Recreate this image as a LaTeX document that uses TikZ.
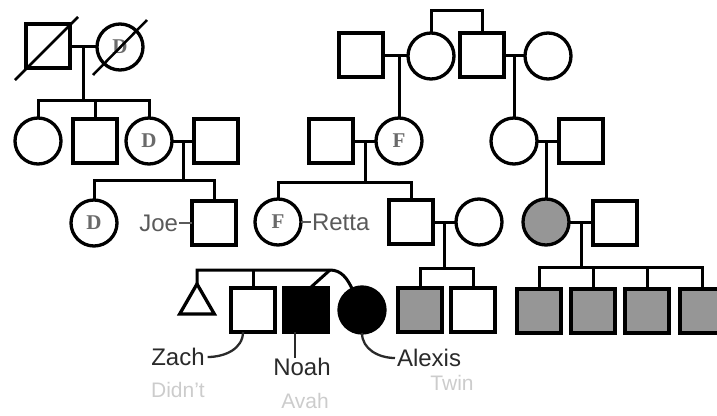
\documentclass[tikz,border=0pt]{standalone}
\usepackage{fontspec}
\setmainfont{Liberation Sans}
\newfontfamily\letterfont{Liberation Serif}
\usetikzlibrary{shapes.geometric,calc}
\definecolor{affgray}{HTML}{969696}
\definecolor{namedark}{HTML}{2A2A2A}
\definecolor{namegray}{HTML}{5A5A5A}
\definecolor{faintgray}{HTML}{CCCCCC}
\definecolor{lettergray}{HTML}{6A6A6A}
\begin{document}
\begin{tikzpicture}[x=1pt,y=-1pt,
  every node/.style={inner sep=0pt,outer sep=0pt},
  male/.style={draw,line width=3.3pt,rectangle,minimum size=44pt,fill=white},
  female/.style={draw,line width=3.3pt,circle,minimum size=46pt,fill=white},
  unknownsex/.style={draw,line width=3.3pt,regular polygon,regular polygon sides=3,minimum size=40pt},
  aff/.style={fill=affgray},
  blk/.style={fill=black},
  link/.style={line width=3pt},
  labline/.style={line width=2.3pt,draw=namedark},
  slash/.style={line width=2.5pt},
  nametxt/.style={font=\fontsize{24}{24}\selectfont,text=namedark},
  gnametxt/.style={font=\fontsize{24}{24}\selectfont,text=namegray},
  faint/.style={font=\fontsize{21}{21}\selectfont,text=faintgray},
  lettertxt/.style={font=\letterfont\bfseries\fontsize{21}{21}\selectfont,text=lettergray}]
\useasboundingbox (0,0) rectangle (717,415);

\coordinate (m1) at (83,46);
\coordinate (sib1) at (83,100);
\coordinate (m2) at (183,141);
\coordinate (sib2) at (183,180);
\coordinate (tb) at (456,10);
\coordinate (m3) at (396,55);
\coordinate (m4) at (514,55);
\coordinate (m5) at (365,141);
\coordinate (sib3) at (365,182);
\coordinate (m6) at (548,141);
\coordinate (m7) at (444,222);
\coordinate (sib4) at (444,268);
\coordinate (m8) at (581,223);
\coordinate (sib5) at (581,267);
\coordinate (tw) at (330,270);

% ---------- individuals ----------
\node[male] (sqA) at (48,46) {};
\node[female] (circA) at (120,47) {};
\node[female] (c1) at (38,141) {};
\node[male] (s2) at (95,141) {};
\node[female] (cD) at (149,141) {};
\node[male] (s4) at (216,141) {};
\node[female] (cD2) at (94,223) {};
\node[male] (joe) at (214,223) {};
\node[male] (s5) at (361,55) {};
\node[female] (c6) at (431,56) {};
\node[male] (s7) at (482,55) {};
\node[female] (c8) at (548,56) {};
\node[male] (s9) at (331,141) {};
\node[female] (cF) at (399,141) {};
\node[female] (c10) at (514,141) {};
\node[male] (s11) at (581,141) {};
\node[female] (retta) at (278,222) {};
\node[male] (s12) at (411,222) {};
\node[female] (c13) at (479,222) {};
\node[female,aff] (cg) at (546,222) {};
\node[male] (s14) at (615,223) {};
\node[unknownsex] (tri) at (197,304) {};
\node[male] (zach) at (253,310) {};
\node[male,blk] (noah) at (306,310) {};
\node[female,blk] (alexis) at (362,310) {};
\node[male,aff] (g1) at (420,310) {};
\node[male] (s15) at (473,310) {};
\node[male,aff] (g2) at (539,311) {};
\node[male,aff] (g3) at (593,311) {};
\node[male,aff] (g4) at (647,311) {};
\node[male,aff] (g5) at (702,311) {};

\node[lettertxt] (lA) at (circA) {D};
\node[lettertxt] (lB) at (cD) {D};
\node[lettertxt] (lC) at (cD2) {D};
\node[lettertxt] (lD) at (cF) {F};
\node[lettertxt] (lE) at (retta) {F};

% ---------- connectors ----------
\draw[link] (sqA.east) -- (sqA.east -| circA.west);
\draw[link] (m1) -- (sib1);
\draw[link] (c1.north) |- (sib1) -| (cD.north);
\draw[link] (s2.north) -- (s2.north |- sib1);

\draw[link] (cD.east) -- (s4.west);
\draw[link] (m2) -- (sib2);
\draw[link] (cD2.north) |- (sib2) -| (joe.north);

\draw[link] (c6.north) |- (tb) -| (s7.north);
\draw[link] (s5.east) -- (s5.east -| c6.west);
\draw[link] (cF.north) -- (cF.north |- m3);
\draw[link] (s7.east) -- (s7.east -| c8.west);
\draw[link] (c10.north) -- (c10.north |- m4);

\draw[link] (s9.east) -- (cF.west);
\draw[link] (m5) -- (sib3);
\draw[link] (retta.north) |- (sib3) -| (s12.north);
\draw[link] (c10.east) -- (s11.west);
\draw[link] (cg.north) -- (cg.north |- m6);

\draw[link] (s12.east) -- (c13.west);
\draw[link] (m7) -- (sib4);
\draw[link] (g1.north) |- (sib4) -| (s15.north);
\draw[link] (cg.east) -- (cg.east -| s14.west);
\draw[link] (m8) -- (sib5);
\draw[link] (g2.north) |- (sib5) -| (g5.north);
\draw[link] (g3.north) -- (g3.north |- sib5);
\draw[link] (g4.north) -- (g4.north |- sib5);

\draw[link] (tri.north) |- (tw) to[out=0,in=115] (alexis.115);
\draw[link] (tw) -- ([xshift=4pt]noah.north);
\draw[link] (zach.north) -- (zach.north |- tw);

% deceased slashes
\draw[slash] ([shift={(-33,34)}]sqA.center) -- ([shift={(30,-29)}]sqA.center);
\draw[slash] ([shift={(-27,28)}]circA.center) -- ([shift={(27,-27)}]circA.center);

% ---------- names ----------
\node[gnametxt,anchor=east] (joetxt) at (178,223) {Joe};
\draw[labline,draw=namegray] ([xshift=1pt]joetxt.east) -- (joe.west);
\node[gnametxt,anchor=west] (rettatxt) at (312,222) {Retta};
\draw[labline,draw=namegray] (retta.east) -- ([xshift=-1pt]rettatxt.west);

\node[nametxt] (zachtxt) at (178,357) {Zach};
\draw[labline] ([xshift=-10pt]zach.south) to[out=-90,in=0] ([xshift=3pt]zachtxt.east);
\node[nametxt] (noahtxt) at (302,367) {Noah};
\draw[labline] ([xshift=-11pt]noah.south) -- ([xshift=-11pt]noah.south |- noahtxt.north);
\node[nametxt,anchor=west] (alexistxt) at (397,358) {Alexis};
\draw[labline] (alexis.south) to[out=-90,in=180] ([xshift=-2pt]alexistxt.west);

% faint annotations
\node[faint] (zachnote) at (178,390) {Didn't};
\node[faint] (noahnote) at (305,401) {Avah};
\node[faint] (alexisnote) at (452,383) {Twin};
\end{tikzpicture}
\end{document}
